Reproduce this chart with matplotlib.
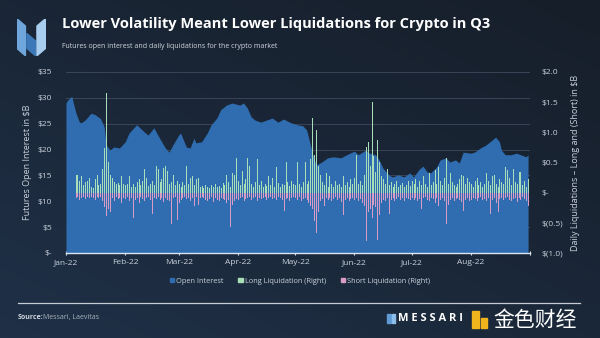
import numpy as np
import pandas as pd
import matplotlib
matplotlib.use("Agg")
import matplotlib.pyplot as plt
from matplotlib.patches import Polygon, Rectangle

plt.rcParams['font.family'] = ['Open Sans', 'DejaVu Sans']

# futures open interest, $B
oi_dates = ['2022-01-01', '2022-01-02', '2022-01-04', '2022-01-06', '2022-01-08', '2022-01-09',
            '2022-01-11', '2022-01-14', '2022-01-16', '2022-01-19', '2022-01-21', '2022-01-22',
            '2022-01-24', '2022-01-26', '2022-01-29', '2022-02-01', '2022-02-03', '2022-02-07',
            '2022-02-11', '2022-02-13', '2022-02-16', '2022-02-19', '2022-02-22', '2022-02-24',
            '2022-02-26', '2022-03-01', '2022-03-02', '2022-03-05', '2022-03-07', '2022-03-09',
            '2022-03-10', '2022-03-13', '2022-03-16', '2022-03-18', '2022-03-21', '2022-03-23',
            '2022-03-26', '2022-03-29', '2022-04-02', '2022-04-04', '2022-04-06', '2022-04-08',
            '2022-04-10', '2022-04-13', '2022-04-16', '2022-04-19', '2022-04-22', '2022-04-25',
            '2022-04-28', '2022-05-02', '2022-05-05', '2022-05-07', '2022-05-08', '2022-05-10',
            '2022-05-12', '2022-05-15', '2022-05-18', '2022-05-21', '2022-05-25', '2022-05-28',
            '2022-06-01', '2022-06-03', '2022-06-07', '2022-06-09', '2022-06-12', '2022-06-14',
            '2022-06-16', '2022-06-19', '2022-06-21', '2022-06-24', '2022-06-27', '2022-06-30',
            '2022-07-02', '2022-07-05', '2022-07-07', '2022-07-09', '2022-07-11', '2022-07-14',
            '2022-07-16', '2022-07-19', '2022-07-21', '2022-07-24', '2022-07-26', '2022-07-28',
            '2022-08-01', '2022-08-03', '2022-08-06', '2022-08-09', '2022-08-11', '2022-08-14',
            '2022-08-16', '2022-08-17', '2022-08-19', '2022-08-22', '2022-08-25', '2022-08-27',
            '2022-08-30', '2022-08-31']
oi_values = [29.0, 29.6, 30.3, 27.3, 25.3, 25.2,
             25.7, 27.0, 26.8, 26.0, 24.4, 20.9,
             19.9, 20.5, 20.3, 21.5, 23.2, 24.8,
             23.4, 22.8, 24.2, 22.2, 20.3, 19.5,
             20.9, 22.8, 23.2, 20.5, 20.3, 22.2,
             21.3, 21.5, 23.2, 24.8, 26.1, 27.7,
             28.6, 29.0, 28.6, 29.0, 28.0, 26.3,
             25.7, 25.3, 25.7, 26.1, 25.3, 25.9,
             25.3, 24.8, 24.6, 23.8, 22.4, 19.3,
             17.0, 17.6, 18.4, 18.6, 18.4, 19.0,
             19.7, 19.0, 19.9, 19.3, 19.0, 18.0,
             16.4, 15.1, 14.7, 15.1, 14.7, 15.5,
             14.7, 16.2, 16.8, 15.7, 15.5, 16.6,
             18.0, 18.4, 17.6, 18.0, 17.4, 19.5,
             19.3, 19.5, 20.3, 20.9, 21.5, 22.4,
             21.5, 19.9, 19.0, 19.0, 19.3, 19.0,
             18.6, 19.0]

# daily liquidations, $B, from Jan 6 to Aug 31
liq_dates = pd.date_range('2022-01-06', '2022-08-31', freq='D')
long_liq = [
    # Jan 6-31
    0.29, 0.29, 0.20, 0.28, 0.12, 0.17, 0.19, 0.25, 0.10, 0.08, 0.22, 0.30, 0.12,
    0.15, 0.39, 0.74, 1.65, 0.50, 0.30, 0.25, 0.17, 0.14, 0.16, 0.12, 0.28, 0.14,
    # Feb
    0.12, 0.15, 0.28, 0.10, 0.14, 0.09, 0.17, 0.22, 0.13, 0.19, 0.39, 0.25, 0.11, 0.15,
    0.20, 0.12, 0.44, 0.39, 0.18, 0.22, 0.41, 0.44, 0.36, 0.14, 0.18, 0.30, 0.12, 0.20,
    # Mar
    0.15, 0.10, 0.18, 0.12, 0.44, 0.14, 0.25, 0.28, 0.12, 0.22, 0.25, 0.09, 0.11, 0.08,
    0.13, 0.10, 0.07, 0.12, 0.09, 0.14, 0.10, 0.11, 0.08, 0.16, 0.12, 0.29, 0.18, 0.10,
    0.33, 0.30, 0.58,
    # Apr
    0.20, 0.12, 0.36, 0.15, 0.22, 0.58, 0.44, 0.14, 0.10, 0.18, 0.55, 0.12, 0.20, 0.09,
    0.15, 0.11, 0.28, 0.13, 0.25, 0.10, 0.43, 0.16, 0.10, 0.14, 0.12, 0.51, 0.18, 0.11,
    0.20, 0.14,
    # May
    0.12, 0.51, 0.15, 0.10, 0.18, 0.51, 0.14, 0.20, 0.55, 1.24, 0.62, 1.04, 0.45, 0.30,
    0.17, 0.12, 0.33, 0.10, 0.28, 0.14, 0.09, 0.20, 0.12, 0.15, 0.10, 0.28, 0.13, 0.18,
    0.09, 0.22, 0.14,
    # Jun
    0.25, 0.63, 0.14, 0.20, 0.12, 0.30, 0.76, 0.84, 0.45, 1.51, 0.60, 0.35, 0.87, 0.50,
    0.28, 0.22, 0.15, 0.39, 0.12, 0.18, 0.10, 0.14, 0.20, 0.09, 0.12, 0.16, 0.10, 0.13,
    0.19, 0.11,
    # Jul
    0.20, 0.14, 0.22, 0.10, 0.19, 0.12, 0.28, 0.15, 0.09, 0.32, 0.12, 0.18, 0.37, 0.14,
    0.43, 0.20, 0.12, 0.25, 0.57, 0.15, 0.33, 0.18, 0.12, 0.10, 0.15, 0.22, 0.30, 0.28,
    0.14, 0.25, 0.18,
    # Aug
    0.15, 0.10, 0.20, 0.25, 0.12, 0.18, 0.10, 0.14, 0.33, 0.20, 0.12, 0.27, 0.30, 0.15,
    0.10, 0.22, 0.18, 0.14, 0.43, 0.38, 0.25, 0.12, 0.40, 0.18, 0.15, 0.35, 0.34, 0.12,
    0.20, 0.10, 0.22,
]
short_liq = [
    # Jan 6-31
    0.08, 0.06, 0.10, 0.07, 0.05, 0.09, 0.06, 0.08, 0.05, 0.07, 0.10, 0.06, 0.08,
    0.05, 0.12, 0.22, 0.37, 0.25, 0.30, 0.08, 0.12, 0.06, 0.09, 0.07, 0.15, 0.08,
    # Feb
    0.09, 0.06, 0.12, 0.08, 0.41, 0.10, 0.07, 0.15, 0.06, 0.09, 0.12, 0.08, 0.05, 0.10,
    0.33, 0.07, 0.09, 0.06, 0.11, 0.08, 0.14, 0.07, 0.10, 0.12, 0.50, 0.08, 0.06, 0.44,
    # Mar
    0.15, 0.10, 0.08, 0.06, 0.09, 0.07, 0.12, 0.08, 0.20, 0.06, 0.19, 0.07, 0.05, 0.08,
    0.10, 0.12, 0.09, 0.06, 0.14, 0.08, 0.10, 0.12, 0.07, 0.09, 0.11, 0.15, 0.10, 0.56,
    0.18, 0.12, 0.09,
    # Apr
    0.10, 0.08, 0.06, 0.12, 0.09, 0.07, 0.05, 0.10, 0.08, 0.06, 0.12, 0.07, 0.09, 0.08,
    0.06, 0.10, 0.07, 0.05, 0.09, 0.08, 0.11, 0.06, 0.08, 0.10, 0.29, 0.09, 0.07, 0.12,
    0.08, 0.06,
    # May
    0.08, 0.10, 0.06, 0.12, 0.09, 0.07, 0.11, 0.15, 0.20, 0.25, 0.45, 0.65, 0.30, 0.12,
    0.09, 0.20, 0.08, 0.10, 0.07, 0.12, 0.09, 0.06, 0.10, 0.08, 0.14, 0.36, 0.10, 0.07,
    0.12, 0.09, 0.08,
    # Jun
    0.10, 0.08, 0.12, 0.09, 0.15, 0.20, 0.78, 0.30, 0.25, 0.40, 0.18, 0.22, 0.77, 0.35,
    0.15, 0.10, 0.12, 0.08, 0.33, 0.10, 0.07, 0.12, 0.09, 0.06, 0.10, 0.08, 0.12, 0.07,
    0.09, 0.11,
    # Jul
    0.08, 0.10, 0.07, 0.12, 0.09, 0.26, 0.08, 0.06, 0.10, 0.12, 0.07, 0.09, 0.15, 0.08,
    0.20, 0.10, 0.07, 0.12, 0.50, 0.18, 0.10, 0.08, 0.12, 0.09, 0.07, 0.11, 0.14, 0.28,
    0.10, 0.08, 0.12,
    # Aug
    0.10, 0.07, 0.09, 0.12, 0.08, 0.06, 0.10, 0.09, 0.12, 0.07, 0.34, 0.10, 0.08, 0.15,
    0.30, 0.09, 0.07, 0.11, 0.08, 0.06, 0.10, 0.12, 0.09, 0.07, 0.14, 0.08, 0.10, 0.06,
    0.09, 0.12, 0.20,
]

month_ticks = pd.date_range('2022-01-01', '2022-08-01', freq='MS')
month_labels = ['Jan-22', 'Feb-22', 'Mar-22', 'Apr-22', 'May-22', 'Jun-22', 'Jul-22', 'Aug-22']
left_ticks = [0, 5, 10, 15, 20, 25, 30, 35]
left_labels = ['$-', '$5', '$10', '$15', '$20', '$25', '$30', '$35']
right_ticks = [-1.0, -0.5, 0, 0.5, 1.0, 1.5, 2.0]
right_labels = ['$(1.0)', '$(0.5)', '$-', '$0.5', '$1.0', '$1.5', '$2.0']

oi_color = '#2f6db0'
long_color = '#a9dfb8'
short_color = '#d99cc4'
text_color = '#c9d1db'

fig = plt.figure(figsize=(6, 3.38), dpi=100)

# dark gradient backdrop
bg = fig.add_axes([0, 0, 1, 1], zorder=-10)
yy, xx = np.mgrid[0:1:200j, 0:1:200j]
grad = 0.55 * yy + 0.45 * (1 - xx)
bg.imshow(grad, cmap=matplotlib.colors.LinearSegmentedColormap.from_list(
    'bg', ['#161e29', '#1f3047']), aspect='auto', extent=[0, 1, 0, 1], origin='upper')
bg.axis('off')

ax1 = fig.add_axes([0.11, 0.2515, 0.7733, 0.5355])
ax1.set_facecolor('none')
ax1.fill_between(pd.to_datetime(oi_dates), oi_values, 0, color=oi_color, lw=0, zorder=2)
ax1.set_ylim(0, 35)
ax1.set_xlim(pd.Timestamp('2022-01-01'), pd.Timestamp('2022-09-01'))
ax1.set_yticks(left_ticks)
ax1.set_yticklabels(left_labels)
ax1.grid(axis='y', color='#3a4658', lw=0.7, zorder=1)
ax1.set_axisbelow(True)
ax1.set_xticks(list(month_ticks) + [pd.Timestamp('2022-09-01')])
ax1.set_xticklabels(month_labels + [''])
ax1.tick_params(axis='x', colors='#d8e6f2', labelcolor=text_color, labelsize=6,
                length=3, width=0.8, direction='inout', pad=3)
ax1.tick_params(axis='y', length=0, labelcolor=text_color, labelsize=6, pad=10)
for s in ['top', 'right', 'left']:
    ax1.spines[s].set_visible(False)
ax1.spines['bottom'].set_color('#d8e6f2')
ax1.spines['bottom'].set_linewidth(1.0)
ax1.set_ylabel('Futures Open Interest in $B', color=text_color, fontsize=6.5, labelpad=4)

# liquidation bars as thin 1px sticks on the right axis
ax2 = ax1.twinx()
ax2.vlines(liq_dates, 0, long_liq, color=long_color, lw=0.55, antialiased=False, zorder=3)
ax2.vlines(liq_dates, 0, -np.array(short_liq), color=short_color, lw=0.55,
           antialiased=False, zorder=3)
ax2.set_ylim(-1, 2)
ax2.set_yticks(right_ticks)
ax2.set_yticklabels(right_labels)
ax2.tick_params(axis='y', length=0, labelcolor=text_color, labelsize=6, pad=8)
for s in ['top', 'right', 'left', 'bottom']:
    ax2.spines[s].set_visible(False)
ax2.set_ylabel('Daily Liquidations \u2013 Long and (Short) in $B', color=text_color,
               fontsize=6.5, labelpad=6)

# legend
handles = [Rectangle((0, 0), 1, 1, color=oi_color),
           Rectangle((0, 0), 1, 1, color=long_color),
           Rectangle((0, 0), 1, 1, color=short_color)]
fig.legend(handles, ['Open Interest', 'Long Liquidation (Right)', 'Short Liquidation (Right)'],
           loc='center', bbox_to_anchor=(0.5, 0.168), ncol=3, frameon=False,
           fontsize=5.3, labelcolor=text_color, handlelength=0.6, handleheight=0.6,
           handletextpad=0.3, columnspacing=2.0)

# header
fig.text(0.103, 0.928, 'Lower Volatility Meant Lower Liquidations for Crypto in Q3',
         color='white', fontsize=10.5, fontweight='bold', va='center', ha='left')
fig.text(0.104, 0.862, 'Futures open interest and daily liquidations for the crypto market',
         color='#d0d6de', fontsize=5.0, va='center', ha='left')

# logo mark
logo = fig.add_axes([0.028, 0.835, 0.048, 0.11])
logo.set_xlim(0, 10)
logo.set_ylim(0, 10)
logo.axis('off')
logo.add_patch(Polygon([[0, 10], [3, 8], [3, 0], [0, 2]], color='#6fa6dc'))
logo.add_patch(Polygon([[3.5, 6], [6.5, 4], [6.5, 0], [3.5, 2]], color='#3d78b8'))
logo.add_patch(Polygon([[7, 8], [10, 10], [10, 2], [7, 0]], color='#a9cdef'))

# footer
fig.add_artist(plt.Line2D([0.03, 0.967], [0.103, 0.103], color='#c6ccd4', lw=0.9))
fig.text(0.03, 0.062, 'Source:', color='#d0d6de', fontsize=5, fontweight='bold', va='center')
fig.text(0.071, 0.062, 'Messari, Laevitas', color='#aab3be', fontsize=5, va='center')
fig.text(0.663, 0.058, 'M E S S A R I', color='white', fontsize=8, fontweight='bold',
         va='center')
fig.add_artist(Rectangle((0.645, 0.045), 0.006, 0.026, color='#5f9ad6'))
fig.add_artist(Rectangle((0.653, 0.045), 0.006, 0.026, color='#8cbdea'))
fig.add_artist(Rectangle((0.787, 0.03), 0.012, 0.05, color='#f0b41c'))
fig.add_artist(Rectangle((0.801, 0.03), 0.01, 0.03, color='#f0b41c'))
fig.text(0.822, 0.052, '金色财经', color='white', fontsize=15, va='center',
         family=['Noto Sans CJK SC', 'DejaVu Sans'])

fig.savefig('out.png', dpi=100, facecolor='#1a2433')
